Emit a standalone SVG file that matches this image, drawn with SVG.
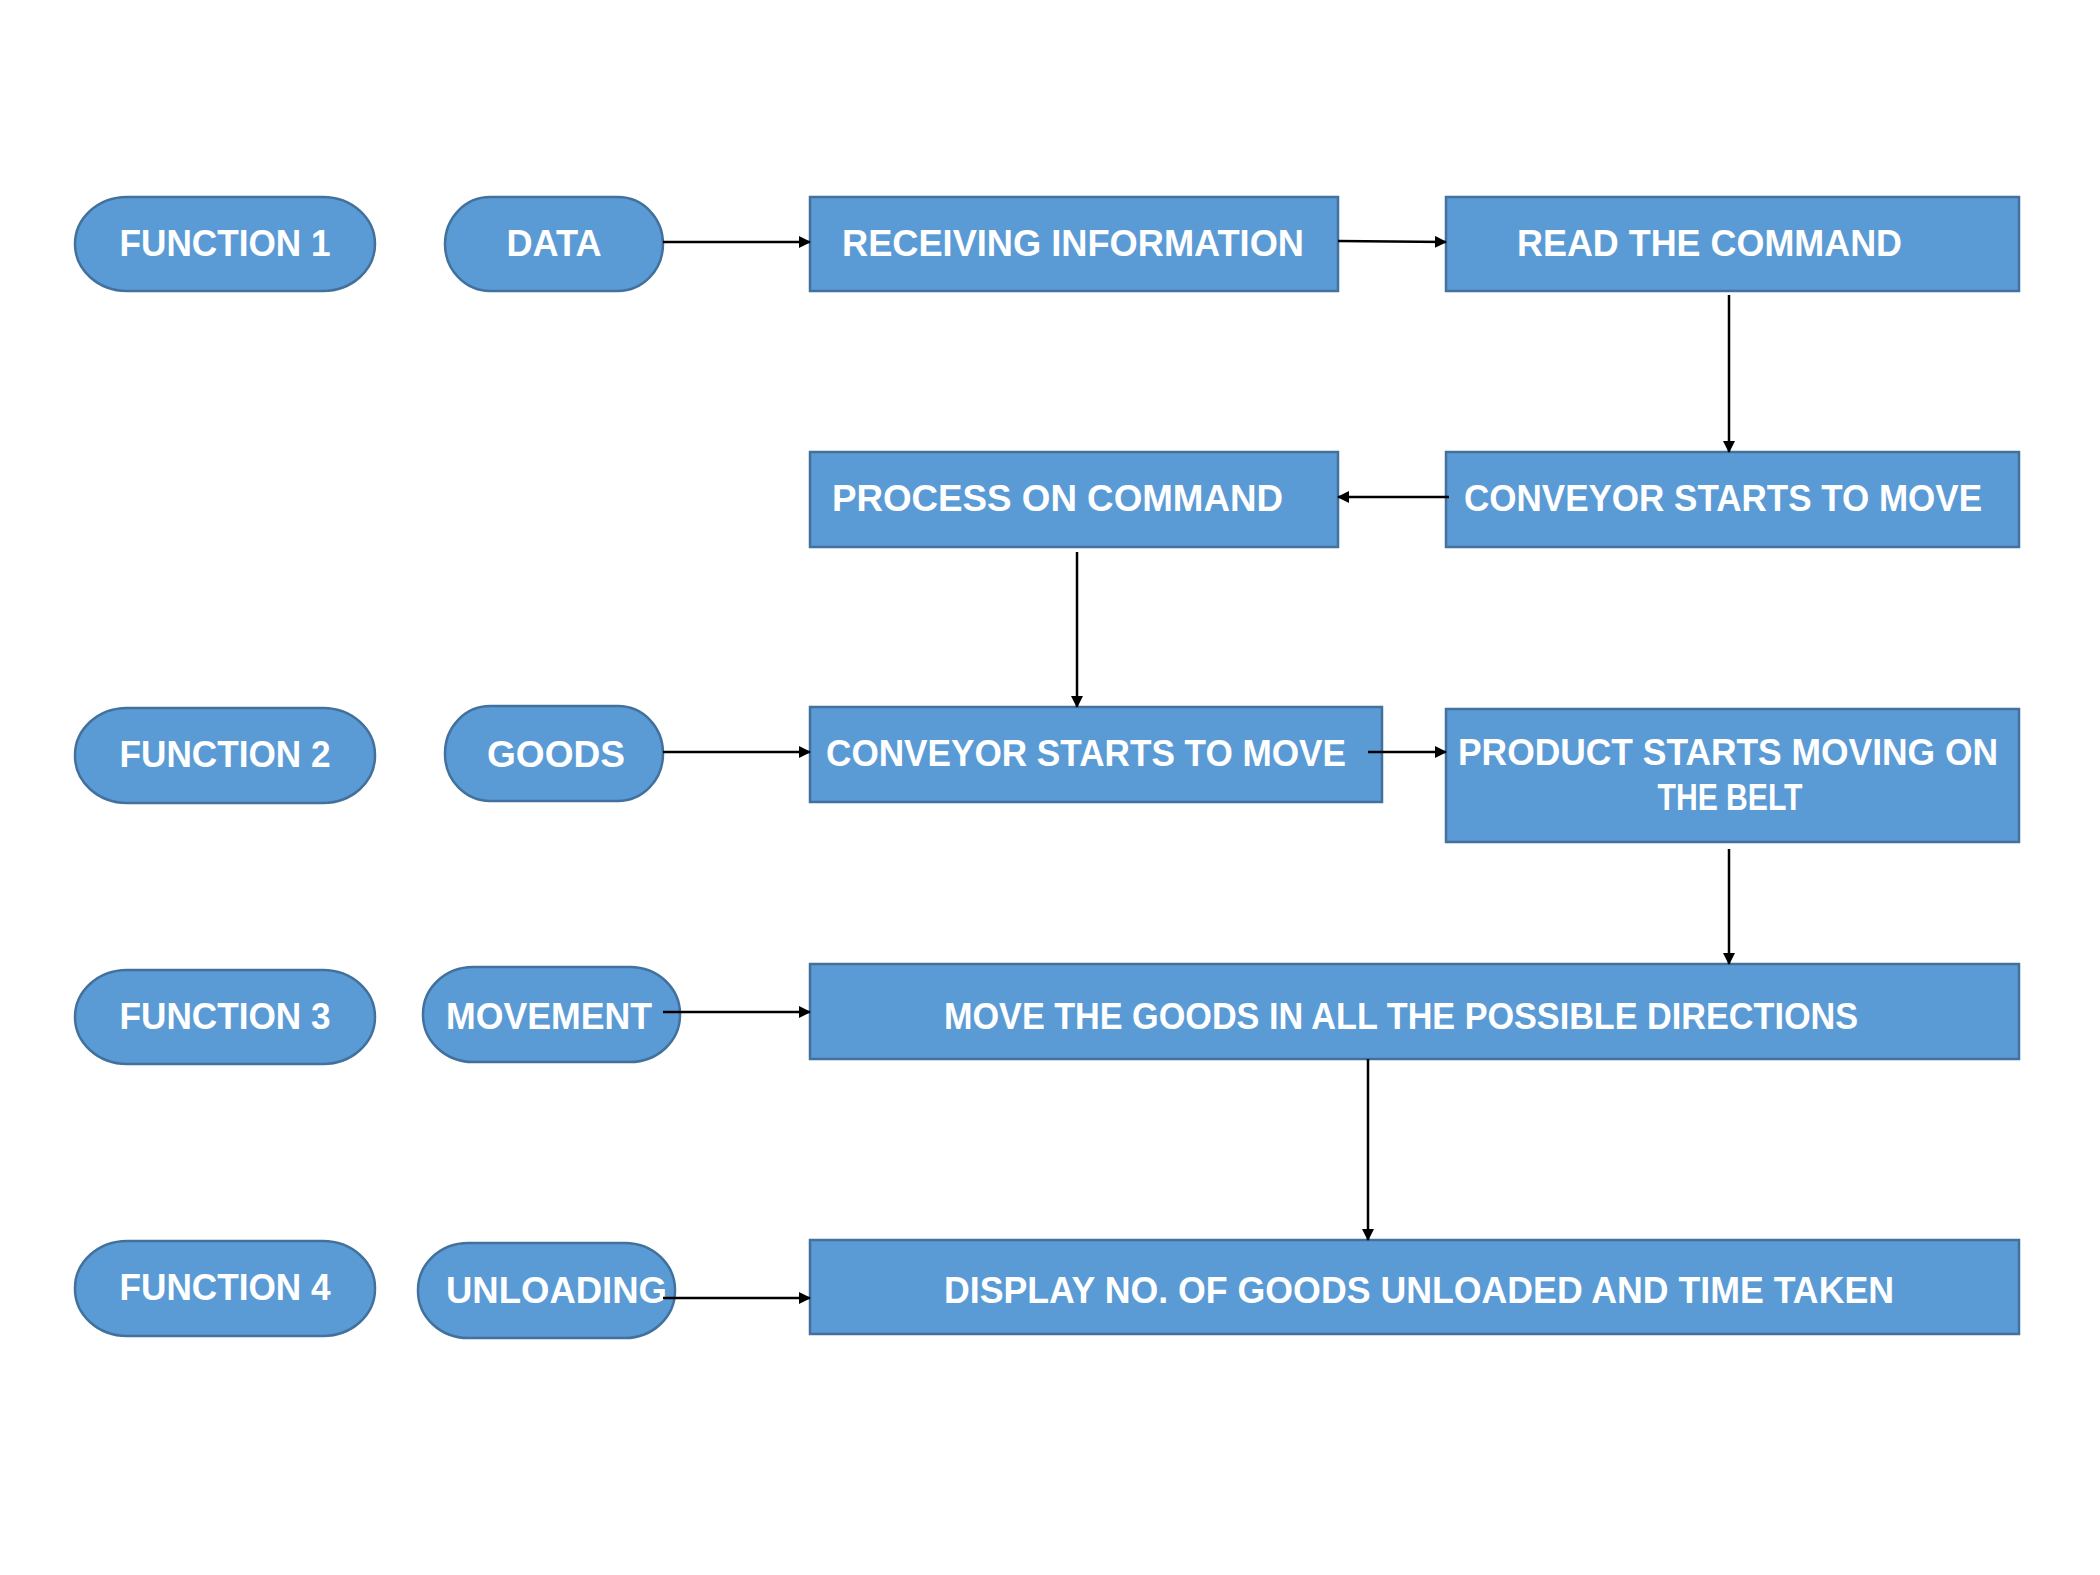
<svg xmlns="http://www.w3.org/2000/svg" width="2100" height="1575" viewBox="0 0 2100 1575">
<defs>
<marker id="ah" markerUnits="userSpaceOnUse" markerWidth="12" markerHeight="12" refX="11" refY="6" orient="auto">
<path d="M0,0 L12,6 L0,12 Z" fill="#000"/>
</marker>
<style>
.box{fill:#5B9BD5;stroke:#41719C;stroke-width:2.5}
.t{font-family:"Liberation Sans",Arial,sans-serif;font-weight:bold;font-size:36px;fill:#fff}
.c{text-anchor:middle}
.ln{stroke:#000;stroke-width:2.5;fill:none;marker-end:url(#ah)}
</style>
</defs>
<rect width="2100" height="1575" fill="#fff"/>
<g id="f1"><rect class="box" x="75" y="197" width="300" height="94" rx="52" ry="47"/><text class="t c" x="225" y="256" textLength="211" lengthAdjust="spacingAndGlyphs">FUNCTION 1</text></g>
<g id="data"><rect class="box" x="445" y="197" width="218" height="94" rx="45" ry="47"/><text class="t c" x="554" y="256" textLength="95" lengthAdjust="spacingAndGlyphs">DATA</text></g>
<g id="recv"><rect class="box" x="810" y="197" width="528" height="94"/><text class="t" x="842" y="256" textLength="462" lengthAdjust="spacingAndGlyphs">RECEIVING INFORMATION</text></g>
<g id="read"><rect class="box" x="1446" y="197" width="573" height="94"/><text class="t" x="1517" y="256" textLength="385" lengthAdjust="spacingAndGlyphs">READ THE COMMAND</text></g>
<g id="proc"><rect class="box" x="810" y="452" width="528" height="95"/><text class="t" x="832" y="511" textLength="451" lengthAdjust="spacingAndGlyphs">PROCESS ON COMMAND</text></g>
<g id="conv1"><rect class="box" x="1446" y="452" width="573" height="95"/><text class="t" x="1464" y="511" textLength="518" lengthAdjust="spacingAndGlyphs">CONVEYOR STARTS TO MOVE</text></g>
<g id="f2"><rect class="box" x="75" y="708" width="300" height="95" rx="52" ry="47"/><text class="t c" x="225" y="767" textLength="211" lengthAdjust="spacingAndGlyphs">FUNCTION 2</text></g>
<g id="goods"><rect class="box" x="445" y="706" width="218" height="95" rx="45" ry="47"/><text class="t c" x="556" y="767" textLength="138" lengthAdjust="spacingAndGlyphs">GOODS</text></g>
<g id="conv2"><rect class="box" x="810" y="707" width="572" height="95"/><text class="t" x="826" y="766" textLength="520" lengthAdjust="spacingAndGlyphs">CONVEYOR STARTS TO MOVE</text></g>
<g id="prod"><rect class="box" x="1446" y="709" width="573" height="133"/><text class="t" x="1458" y="765" textLength="540" lengthAdjust="spacingAndGlyphs">PRODUCT STARTS MOVING ON</text><text class="t c" x="1730" y="810" textLength="145" lengthAdjust="spacingAndGlyphs">THE BELT</text></g>
<g id="f3"><rect class="box" x="75" y="970" width="300" height="94" rx="52" ry="47"/><text class="t c" x="225" y="1029" textLength="211" lengthAdjust="spacingAndGlyphs">FUNCTION 3</text></g>
<g id="movement"><rect class="box" x="423" y="967" width="257" height="95" rx="50" ry="47"/><text class="t c" x="549" y="1029" textLength="206" lengthAdjust="spacingAndGlyphs">MOVEMENT</text></g>
<g id="move"><rect class="box" x="810" y="964" width="1209" height="95"/><text class="t" x="944" y="1029" textLength="914" lengthAdjust="spacingAndGlyphs">MOVE THE GOODS IN ALL THE POSSIBLE DIRECTIONS</text></g>
<g id="f4"><rect class="box" x="75" y="1241" width="300" height="95" rx="52" ry="47"/><text class="t c" x="225" y="1300" textLength="211" lengthAdjust="spacingAndGlyphs">FUNCTION 4</text></g>
<g id="unload"><rect class="box" x="418" y="1243" width="257" height="95" rx="50" ry="47"/><text class="t" x="446" y="1303" textLength="221" lengthAdjust="spacingAndGlyphs">UNLOADING</text></g>
<g id="disp"><rect class="box" x="810" y="1240" width="1209" height="94"/><text class="t" x="944" y="1303" textLength="950" lengthAdjust="spacingAndGlyphs">DISPLAY NO. OF GOODS UNLOADED AND TIME TAKEN</text></g>
<g id="connectors">
<line class="ln" x1="663" y1="242" x2="810" y2="242"/>
<line class="ln" x1="1338" y1="241" x2="1446" y2="242"/>
<line class="ln" x1="1729" y1="295" x2="1729" y2="452"/>
<line class="ln" x1="1449" y1="497" x2="1338" y2="497"/>
<line class="ln" x1="1077" y1="552" x2="1077" y2="707"/>
<line class="ln" x1="663" y1="752" x2="810" y2="752"/>
<line class="ln" x1="1368" y1="752" x2="1446" y2="752"/>
<line class="ln" x1="1729" y1="849" x2="1729" y2="964"/>
<line class="ln" x1="663" y1="1012" x2="810" y2="1012"/>
<line class="ln" x1="1368" y1="1059" x2="1368" y2="1240"/>
<line class="ln" x1="663" y1="1298" x2="810" y2="1298"/>
</g>
</svg>
